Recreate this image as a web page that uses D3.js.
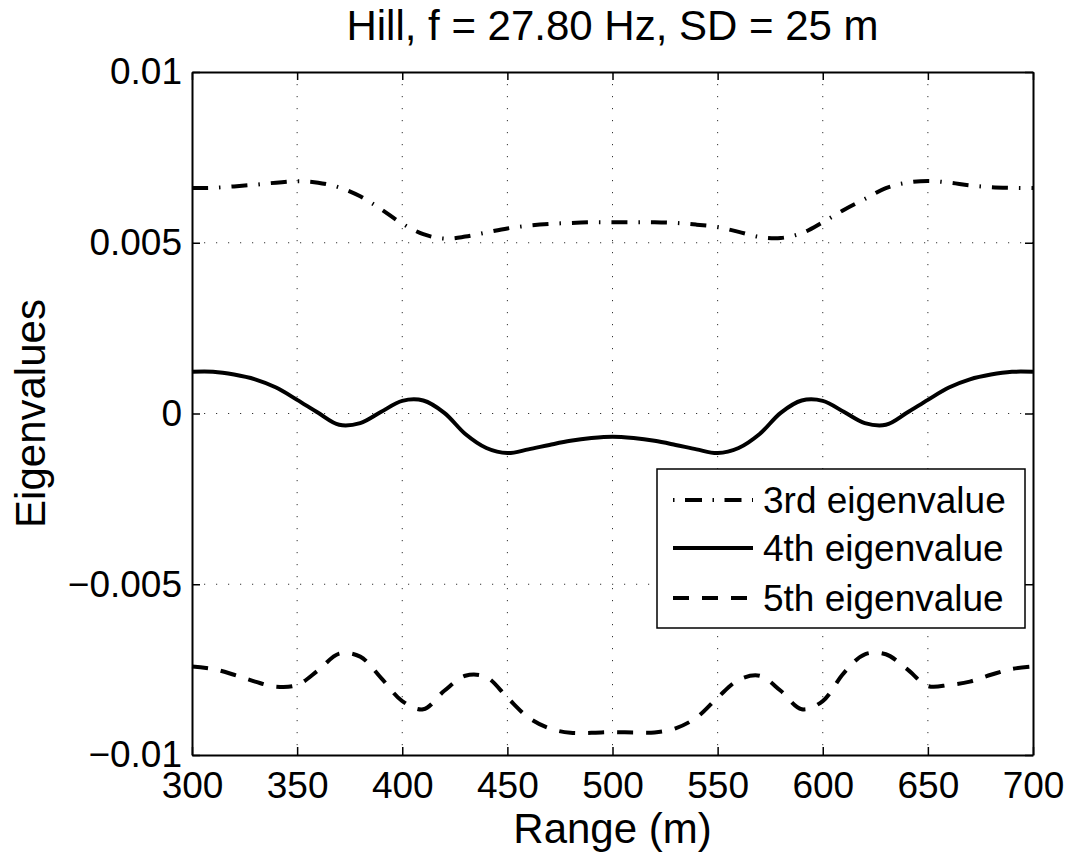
<!DOCTYPE html>
<html>
<head>
<meta charset="utf-8">
<script src="https://cdn.jsdelivr.net/npm/d3@7"></script>
<style>
  body { margin: 0; background: #fff; }
  text { font-family: "Liberation Sans", Arial, Helvetica, sans-serif; fill: #000; }
</style>
</head>
<body>
<div id="chart"></div>
<script>
// range samples (m)
const ranges = [300, 310, 320, 330, 340, 350, 360, 370, 380, 390,
                400, 410, 420, 430, 440, 450, 460, 470, 480, 490,
                500, 510, 520, 530, 540, 550, 560, 570, 580, 590,
                600, 610, 620, 630, 640, 650, 660, 670, 680, 690, 700];

const eig3 = [0.00660, 0.00661, 0.00665, 0.00670, 0.00676, 0.00680, 0.00676, 0.00662, 0.00636, 0.00598,
              0.00556, 0.00525, 0.00512, 0.00518, 0.00530, 0.00542, 0.00550, 0.00555, 0.00558, 0.00560,
              0.00560, 0.00560, 0.00560, 0.00558, 0.00553, 0.00546, 0.00532, 0.00517, 0.00514, 0.00528,
              0.00560, 0.00596, 0.00628, 0.00660, 0.00676, 0.00681, 0.00676, 0.00668, 0.00663, 0.00661, 0.00660];

const eig4 = [0.00122, 0.00122, 0.00114, 0.00100, 0.00076, 0.00040, 0.00002, -0.00033, -0.00028, 0.00005,
              0.00037, 0.00038, 0.00002, -0.00060, -0.00101, -0.00116, -0.00105, -0.00092, -0.00080, -0.00072,
              -0.00068, -0.00072, -0.00080, -0.00092, -0.00105, -0.00116, -0.00101, -0.00060, 0.00002, 0.00038,
              0.00037, 0.00005, -0.00028, -0.00033, 0.00002, 0.00040, 0.00076, 0.00100, 0.00114, 0.00122, 0.00122];

const eig5 = [-0.00741, -0.00748, -0.00765, -0.00785, -0.00800, -0.00795, -0.00752, -0.00703, -0.00712, -0.00775,
              -0.00842, -0.00866, -0.00812, -0.00768, -0.00772, -0.00832, -0.00890, -0.00922, -0.00935, -0.00935,
              -0.00933, -0.00934, -0.00934, -0.00922, -0.00890, -0.00832, -0.00780, -0.00768, -0.00812, -0.00866,
              -0.00842, -0.00760, -0.00705, -0.00705, -0.00748, -0.00798, -0.00795, -0.00785, -0.00765, -0.00748, -0.00741];

const xTicks = [300, 350, 400, 450, 500, 550, 600, 650, 700];
const yTicks = [-0.01, -0.005, 0, 0.005, 0.01];
const yTickLabels = ["\u22120.01", "\u22120.005", "0", "0.005", "0.01"];

const seriesNames = ["3rd eigenvalue", "4th eigenvalue", "5th eigenvalue"];
const seriesValues = [eig3, eig4, eig5];
const seriesDash = ["16,11,1.5,11", null, "16,13"];

const fullWidth = 1070;
const fullHeight = 855;
const margin = { top: 72, right: 37, bottom: 100, left: 192 };
const width = fullWidth - margin.left - margin.right;
const height = fullHeight - margin.top - margin.bottom;

const svg = d3.select("#chart")
  .append("svg")
  .attr("width", fullWidth)
  .attr("height", fullHeight);

const g = svg.append("g")
  .attr("transform", `translate(${margin.left},${margin.top})`);

const x = d3.scaleLinear().domain([300, 700]).range([0, width]);
const y = d3.scaleLinear().domain([-0.01, 0.01]).range([height, 0]);

// grid
g.append("g")
  .selectAll("line.vgrid")
  .data(xTicks.slice(1, -1))
  .join("line")
  .attr("x1", d => x(d)).attr("x2", d => x(d))
  .attr("y1", 0).attr("y2", height)
  .attr("stroke", "#333").attr("stroke-width", 1)
  .attr("stroke-dasharray", "1.2,10.8");

g.append("g")
  .selectAll("line.hgrid")
  .data(yTicks.slice(1, -1))
  .join("line")
  .attr("x1", 0).attr("x2", width)
  .attr("y1", d => y(d)).attr("y2", d => y(d))
  .attr("stroke", "#333").attr("stroke-width", 1)
  .attr("stroke-dasharray", "1.2,10.8");

// axes, ticks inside
function styleAxis(sel) {
  sel.select(".domain").attr("stroke-width", 2);
  sel.selectAll(".tick line").attr("stroke-width", 1.5);
  sel.selectAll(".tick text").style("font-size", "37px");
}

g.append("g")
  .attr("transform", `translate(0,${height})`)
  .call(d3.axisBottom(x).tickValues(xTicks).tickSizeInner(-8).tickSizeOuter(0).tickPadding(17))
  .call(styleAxis);

g.append("g")
  .call(d3.axisTop(x).tickValues(xTicks).tickSizeInner(-8).tickSizeOuter(0).tickFormat(""))
  .call(styleAxis);

g.append("g")
  .call(d3.axisLeft(y).tickValues(yTicks).tickSizeInner(-8).tickSizeOuter(0).tickPadding(10)
    .tickFormat((d, i) => yTickLabels[i]))
  .call(styleAxis);

g.append("g")
  .attr("transform", `translate(${width},0)`)
  .call(d3.axisRight(y).tickValues(yTicks).tickSizeInner(-8).tickSizeOuter(0).tickFormat(""))
  .call(styleAxis);

// lines
const line = d3.line()
  .x((d, i) => x(ranges[i]))
  .y(d => y(d))
  .curve(d3.curveCatmullRom);

seriesValues.forEach((vals, k) => {
  g.append("path")
    .datum(vals)
    .attr("fill", "none")
    .attr("stroke", "#000")
    .attr("stroke-width", 4)
    .attr("stroke-dasharray", seriesDash[k])
    .attr("d", line);
});

// legend
const legend = svg.append("g").attr("transform", "translate(657,469)");
legend.append("rect")
  .attr("width", 368).attr("height", 159)
  .attr("fill", "#fff").attr("stroke", "#000").attr("stroke-width", 1.5);

const rowY = [31, 79, 129];
seriesNames.forEach((name, k) => {
  legend.append("line")
    .attr("x1", 16).attr("x2", 96)
    .attr("y1", rowY[k]).attr("y2", rowY[k])
    .attr("stroke", "#000").attr("stroke-width", 4)
    .attr("stroke-dasharray", k === 0 ? "1.5,10.5,17,10.5" : seriesDash[k]);
  legend.append("text")
    .attr("x", 106).attr("y", rowY[k])
    .attr("dy", "0.36em")
    .style("font-size", "37px")
    .text(name);
});

// title and labels
svg.append("text")
  .attr("x", margin.left + width / 2)
  .attr("y", 40)
  .attr("text-anchor", "middle")
  .style("font-size", "42px")
  .text("Hill, f = 27.80 Hz, SD = 25 m");

svg.append("text")
  .attr("x", margin.left + width / 2)
  .attr("y", 843)
  .attr("text-anchor", "middle")
  .style("font-size", "42px")
  .text("Range (m)");

svg.append("text")
  .attr("transform", `translate(45,${margin.top + height / 2}) rotate(-90)`)
  .attr("text-anchor", "middle")
  .style("font-size", "42px")
  .text("Eigenvalues");
</script>
</body>
</html>
